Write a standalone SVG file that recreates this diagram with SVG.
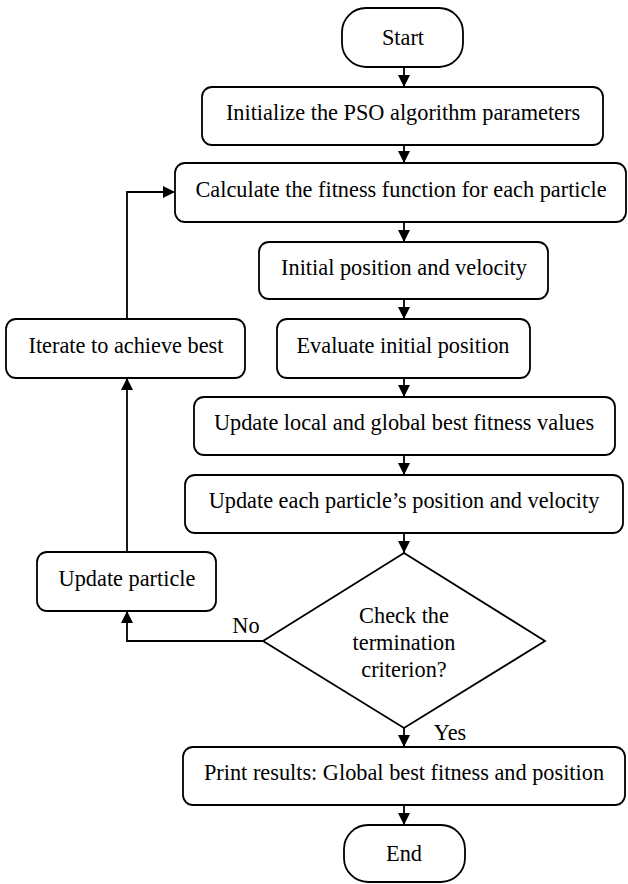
<svg xmlns="http://www.w3.org/2000/svg" width="628" height="884" viewBox="0 0 628 884">
<defs>
<marker id="ah" viewBox="0 0 12 12" refX="12" refY="6" markerWidth="12" markerHeight="12" markerUnits="userSpaceOnUse" orient="auto">
<path d="M0,0 L12,6 L0,12 Z" fill="#000"/>
</marker>
<style>
.n{fill:#fff;stroke:#000;stroke-width:1.8}
.t{font-family:"Liberation Serif","Times New Roman",serif;font-size:22.3px;fill:#000;text-anchor:middle}
.c{fill:none;stroke:#000;stroke-width:1.8;marker-end:url(#ah)}
</style>
</defs>
<rect width="628" height="884" fill="#fff"/>
<g id="connectors">
<line class="c" x1="404" y1="67" x2="404" y2="87"/>
<line class="c" x1="404" y1="145" x2="404" y2="163"/>
<line class="c" x1="404" y1="222" x2="404" y2="242"/>
<line class="c" x1="404" y1="299" x2="404" y2="319"/>
<line class="c" x1="404" y1="378" x2="404" y2="397"/>
<line class="c" x1="404" y1="455" x2="404" y2="475"/>
<line class="c" x1="404" y1="533" x2="404" y2="553"/>
<line class="c" x1="404" y1="728" x2="404" y2="747"/>
<line class="c" x1="404" y1="805" x2="404" y2="825"/>
<polyline class="c" points="263,641 127,641 127,611"/>
<line class="c" x1="127" y1="552" x2="127" y2="378"/>
<polyline class="c" points="127,319 127,192 175,192"/>
<text class="t" x="246" y="633">No</text>
<text class="t" x="450" y="740">Yes</text>
</g>
<g id="start"><rect class="n" x="342" y="8" width="121" height="59" rx="24"/><text class="t" x="403" y="45">Start</text></g>
<g id="init"><rect class="n" x="202" y="87" width="401" height="58" rx="10"/><text class="t" x="403" y="120">Initialize the PSO algorithm parameters</text></g>
<g id="calc"><rect class="n" x="175" y="163" width="451" height="59" rx="10"/><text class="t" x="401" y="197">Calculate the fitness function for each particle</text></g>
<g id="initpos"><rect class="n" x="259" y="242" width="289" height="57" rx="10"/><text class="t" x="404" y="275">Initial position and velocity</text></g>
<g id="iterate"><rect class="n" x="6" y="319" width="239" height="59" rx="10"/><text class="t" x="126" y="353">Iterate to achieve best</text></g>
<g id="evaluate"><rect class="n" x="277" y="319" width="253" height="59" rx="10"/><text class="t" x="403" y="353">Evaluate initial position</text></g>
<g id="updlocal"><rect class="n" x="194" y="397" width="421" height="58" rx="10"/><text class="t" x="404" y="430">Update local and global best fitness values</text></g>
<g id="updeach"><rect class="n" x="185" y="475" width="438" height="58" rx="10"/><text class="t" x="404" y="508">Update each particle’s position and velocity</text></g>
<g id="updparticle"><rect class="n" x="37" y="552" width="179" height="59" rx="10"/><text class="t" x="127" y="586">Update particle</text></g>
<g id="check"><polygon class="n" points="404,553 545,641 404,728 263,641"/>
<text class="t" x="404" y="623">Check the</text>
<text class="t" x="404" y="650">termination</text>
<text class="t" x="404" y="677">criterion?</text></g>
<g id="print"><rect class="n" x="183" y="747" width="442" height="58" rx="10"/><text class="t" x="404" y="780">Print results: Global best fitness and position</text></g>
<g id="end"><rect class="n" x="344" y="825" width="121" height="57" rx="24"/><text class="t" x="404" y="861">End</text></g>
</svg>
